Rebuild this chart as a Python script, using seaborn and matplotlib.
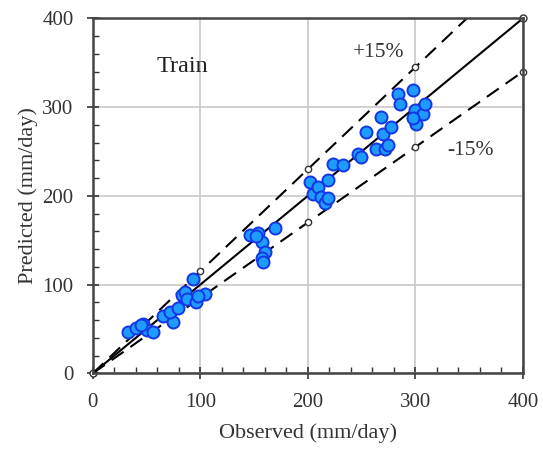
import numpy as np
import pandas as pd
import matplotlib
matplotlib.use('Agg')
import matplotlib.pyplot as plt
import seaborn as sns
from matplotlib.ticker import MultipleLocator

plt.rcParams['font.family'] = ['Liberation Serif', 'DejaVu Serif']

# Observed vs predicted values (mm/day)
observed = [32.9, 40, 46.8, 49.9, 55.5, 45, 65.4, 74.1, 72, 79.4, 82.5, 86, 88,
            93.3, 95.8, 104.2, 98,
            146, 153.8, 156.9, 160, 157, 157.8, 169.3, 152,
            201.6, 204.7, 209.3, 212.4, 215.5, 218.6, 218.6, 223.3, 232.6,
            246.5, 249.6, 254.3, 263.6, 268, 269.8, 271.3, 274.4, 277.5,
            283.7, 285.3, 297.7, 299.2, 300.8, 307, 308.5, 298]
predicted = [46.1, 51.4, 55.1, 48.8, 46.9, 54.4, 64.5, 58.1, 69.4, 73.2, 88.2, 92, 84,
             106.2, 80.6, 89, 87,
             155.7, 157.6, 148.2, 137, 129.5, 125.7, 163.3, 155,
             215.8, 202.6, 210, 199, 191.4, 197, 217.6, 236.4, 234.5,
             247.7, 244, 272, 253.3, 289, 270, 253.3, 257, 277.7,
             315.2, 304, 319, 296.4, 281.4, 292.7, 304, 288]

ref_x = [0, 100, 200, 300, 400]
band_labels = ['+15%', '-15%']

df = pd.DataFrame({'Observed': observed, 'Predicted': predicted})

fig = plt.figure(figsize=(5.43, 4.49), dpi=100)
ax = fig.add_axes([0.171, 0.1686, 0.792, 0.7905])

ax.grid(True, color='#c8c8c8', linewidth=1.2, zorder=0)
ax.set_axisbelow(True)

# reference lines: 1:1, +15%, -15%
rx = np.array(ref_x, dtype=float)
ax.plot(rx, rx, color='black', lw=1.5, marker='o', ms=5, mfc='white',
        mec='#333333', markevery=[0, 4], zorder=2, clip_on=False)
ax.plot(rx, 1.15 * rx, color='black', lw=1.5, ls=(0, (7, 4)), marker='o',
        ms=4.5, mfc='white', mec='#333333', markevery=[1, 2, 3], zorder=2)
ax.plot(rx, 0.85 * rx, color='black', lw=1.5, ls=(0, (7, 4)), marker='o',
        ms=4.5, mfc='white', mec='#333333', markevery=[1, 2, 3, 4], zorder=2,
        clip_on=False)

sns.scatterplot(data=df, x='Observed', y='Predicted', ax=ax, s=75,
                color='#1e9bff', edgecolor='#1436e6', linewidth=1.4, zorder=3)

ax.set_xlim(0, 400)
ax.set_ylim(0, 400)
ax.xaxis.set_major_locator(MultipleLocator(100))
ax.yaxis.set_major_locator(MultipleLocator(100))
ax.xaxis.set_minor_locator(MultipleLocator(20))
ax.yaxis.set_minor_locator(MultipleLocator(20))
ax.tick_params(which='major', direction='inout', length=8, width=1.2, pad=10,
               labelsize=15, colors='#333333', labelcolor='#333333')
ax.tick_params(which='minor', direction='in', length=4, width=1.0,
               colors='#333333')
for sp in ax.spines.values():
    sp.set_linewidth(1.8)
    sp.set_color('#444444')

ax.set_xlabel('Observed (mm/day)', fontsize=16, color='#333333', labelpad=8)
ax.set_ylabel('Predicted (mm/day)', fontsize=16, color='#333333', labelpad=3)

ax.text(59, 346, 'Train', fontsize=17.5, color='#222222', va='center')
ax.text(242, 361, band_labels[0], fontsize=15.5, color='#333333', va='center')
ax.text(330, 251, band_labels[1], fontsize=15.5, color='#333333', va='center')

fig.savefig('out.png', dpi=100)
